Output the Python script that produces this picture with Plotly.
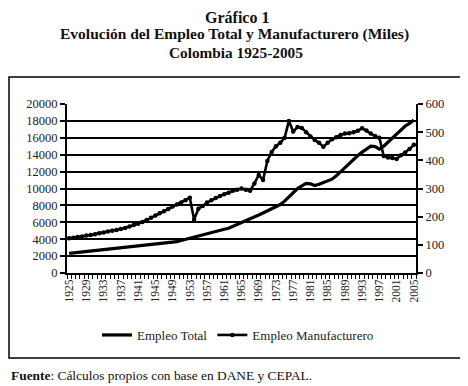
import plotly.graph_objects as go

years = list(range(1925, 2006))

empleo_total = [
    2330, 2385, 2440, 2495, 2550, 2605, 2660, 2715, 2770, 2825,
    2880, 2935, 2990, 3045, 3100, 3155, 3210, 3265, 3320, 3375,
    3430, 3485, 3540, 3595, 3650, 3705, 3850, 3990, 4130, 4270,
    4410, 4540, 4670, 4800, 4940, 5080, 5180, 5290, 5500, 5720,
    5930, 6150, 6380, 6620, 6860, 7100, 7350, 7600, 7850, 8100,
    8500, 9000, 9600, 10000, 10300, 10600, 10550, 10350, 10500, 10700,
    10880, 11100, 11500, 12000, 12500, 13000, 13500, 13900, 14300, 14700,
    15000, 14950, 14650, 15000, 15500, 16000, 16400, 17000, 17400, 17700,
    18100,
]

empleo_manuf = [
    123, 125, 128, 130, 133, 135, 138, 141, 144, 147,
    150, 153, 156, 160, 165, 170, 175, 181, 188, 196,
    204, 212, 219, 227, 236, 243, 250, 258, 267, 190,
    228, 238, 250, 258, 266, 273, 280, 285, 292, 296,
    300, 296, 292, 318, 348, 330, 398, 430, 450, 462,
    480, 540, 502, 518, 515, 500, 485, 472, 462, 448,
    462, 475, 482, 490, 495, 496, 500, 505, 514, 506,
    495, 486, 480, 415, 410, 408, 405, 418, 428, 440,
    455,
]

left_ticks = list(range(0, 20001, 2000))
right_ticks = list(range(0, 601, 100))
x_labels = list(range(1925, 2006, 4))

FONT = "Liberation Serif"

fig = go.Figure()
fig.add_trace(go.Scatter(
    x=years, y=empleo_total, name="Empleo Total", mode="lines",
    line=dict(color="black", width=3.2), yaxis="y",
))
fig.add_trace(go.Scatter(
    x=years, y=empleo_manuf, name="Empleo Manufacturero", mode="lines+markers",
    line=dict(color="black", width=2.6), marker=dict(color="black", size=4.5),
    yaxis="y2",
))

# page offset (browser body margin)
OFF = 8
W, H = 468 - OFF, 386 - OFF
# plot area in page pixels
L, R, T, B = 67, 416, 104, 273
pw, ph = R - L, B - T


def px(x):
    return (x - L) / pw


def py(y):
    return (B - y) / ph


fig.update_layout(
    width=W, height=H,
    margin=dict(l=L - OFF, r=W - (R - OFF), t=T - OFF, b=H - (B - OFF), pad=0),
    paper_bgcolor="white", plot_bgcolor="white",
    font=dict(family=FONT, color="#222222", size=12),
    showlegend=True,
    legend=dict(orientation="h", x=px(238), xanchor="center", y=py(335), yanchor="middle",
                font=dict(size=13, family=FONT, color="#222"), bgcolor="rgba(0,0,0,0)",
                itemwidth=30, tracegroupgap=0),
    xaxis=dict(
        range=[1924.5, 2005.5], tickmode="array", tickvals=x_labels,
        ticktext=[str(v) for v in x_labels], tickangle=-90, ticks="",
        tickfont=dict(size=11.5, family=FONT, color="#222"),
        showline=True, linecolor="black", linewidth=2, showgrid=False, zeroline=False,
        minor=dict(tickmode="linear", tick0=1924.5, dtick=1, ticks="outside", ticklen=4,
                   tickcolor="black", tickwidth=1.3, showgrid=False),
    ),
    yaxis=dict(
        range=[0, 20000], tickmode="array", tickvals=left_ticks,
        ticktext=[str(v) for v in left_ticks],
        ticks="outside", ticklen=5, tickcolor="black", tickwidth=1.5,
        tickfont=dict(size=12.5, family=FONT, color="#222"),
        showgrid=True, gridcolor="black", gridwidth=2,
        showline=True, linecolor="black", linewidth=2, zeroline=False,
    ),
    yaxis2=dict(
        range=[0, 600], overlaying="y", side="right", tickmode="array",
        tickvals=right_ticks, ticktext=[str(v) for v in right_ticks],
        ticks="outside", ticklen=5, tickcolor="black", tickwidth=1.5,
        tickfont=dict(size=12.5, family=FONT, color="#222"),
        showgrid=False, showline=True, linecolor="black", linewidth=2, zeroline=False,
    ),
    shapes=[dict(type="rect", xref="paper", yref="paper",
                 x0=px(9), x1=px(463), y0=py(358), y1=py(77),
                 line=dict(color="black", width=1.5), fillcolor="rgba(0,0,0,0)", layer="below")],
    annotations=[
        dict(text="<b>Gráfico 1</b>", xref="paper", yref="paper", x=px(237), y=py(17),
             xanchor="center", yanchor="middle", showarrow=False,
             font=dict(size=16, family=FONT, color="#111")),
        dict(text="<b>Evolución del Empleo Total y Manufacturero (Miles)</b>", xref="paper", yref="paper",
             x=px(234), y=py(34), xanchor="center", yanchor="middle", showarrow=False,
             font=dict(size=15.5, family=FONT, color="#111")),
        dict(text="<b>Colombia 1925-2005</b>", xref="paper", yref="paper", x=px(236), y=py(52),
             xanchor="center", yanchor="middle", showarrow=False,
             font=dict(size=15.3, family=FONT, color="#111")),
        dict(text="<b>Fuente</b>: Cálculos propios con base en DANE y CEPAL.", xref="paper", yref="paper",
             x=px(9), y=py(375), xanchor="left", yanchor="middle", showarrow=False,
             font=dict(size=13.4, family=FONT, color="#111")),
    ],
)

fig.write_html("out.html")
